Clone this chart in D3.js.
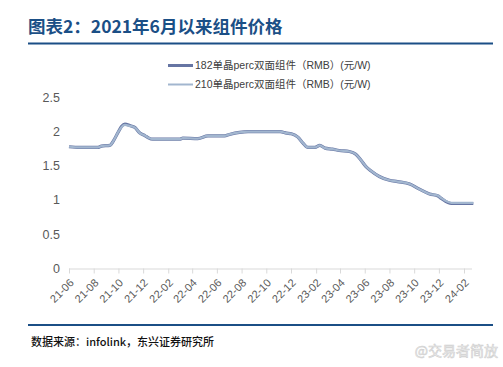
<!DOCTYPE html>
<html><head><meta charset="utf-8">
<script src="https://cdn.jsdelivr.net/npm/d3@7"></script>
<style>body{margin:0;background:#fff}</style>
</head><body>
<svg id="c" width="503" height="367"></svg>
<script>
const dates = ["2021-06-01","2021-06-28","2021-08-11","2021-08-20","2021-09-10","2021-09-18","2021-10-01","2021-10-09","2021-10-17","2021-10-29","2021-11-11","2021-11-23","2021-12-06","2021-12-14","2021-12-25","2022-03-01","2022-03-09","2022-04-15","2022-05-10","2022-06-20","2022-07-02","2022-07-27","2022-08-17","2022-11-04","2022-11-20","2022-12-02","2022-12-18","2022-12-31","2023-01-12","2023-01-29","2023-02-10","2023-02-23","2023-03-13","2023-03-30","2023-04-24","2023-05-10","2023-05-22","2023-06-04","2023-06-16","2023-07-07","2023-08-01","2023-08-21","2023-09-20","2023-10-14","2023-11-08","2023-11-29","2023-12-07","2024-01-01","2024-02-24"];
const s182 = [1.78,1.77,1.77,1.79,1.80,1.86,2.00,2.08,2.11,2.09,2.06,1.98,1.94,1.91,1.89,1.89,1.905,1.90,1.94,1.94,1.96,1.99,2.00,2.00,1.98,1.97,1.92,1.83,1.77,1.77,1.80,1.76,1.745,1.725,1.71,1.67,1.59,1.49,1.43,1.345,1.29,1.27,1.235,1.16,1.09,1.06,1.025,0.95,0.95];
const s210 = [1.78,1.77,1.77,1.79,1.80,1.86,2.00,2.07,2.10,2.085,2.06,1.98,1.94,1.91,1.89,1.89,1.905,1.90,1.94,1.94,1.96,1.99,2.00,2.00,1.98,1.97,1.92,1.83,1.77,1.77,1.80,1.76,1.745,1.725,1.71,1.67,1.59,1.49,1.43,1.345,1.29,1.27,1.235,1.16,1.09,1.065,1.03,0.96,0.96];
const yTicks = [0,0.5,1,1.5,2,2.5];
const yTickLabels = ["0","0.5","1","1.5","2","2.5"];
const xTickLabels = ["21-06","21-08","21-10","21-12","22-02","22-04","22-06","22-08","22-10","22-12","23-02","23-04","23-06","23-08","23-10","23-12","24-02"];
const seriesNames = ["182单晶perc双面组件（RMB）(元/W)","210单晶perc双面组件（RMB）(元/W)"];
const title = "图表2：2021年6月以来组件价格";
const source = "数据来源：infolink，东兴证券研究所";

const svg = d3.select("#c");
const parse = d3.timeParse("%Y-%m-%d");
const blue = "#1b4f86";

// title
svg.append("text").attr("x",28).attr("y",33).text(title)
  .attr("font-family","'Noto Sans CJK SC',sans-serif").attr("font-weight","bold")
  .attr("font-size",17.5).attr("fill",blue);
svg.append("line").attr("x1",28).attr("x2",493).attr("y1",43.5).attr("y2",43.5)
  .attr("stroke",blue).attr("stroke-width",2);

const x0 = parse("2021-06-01"), x1 = parse("2024-02-01");
const x = d3.scaleTime().domain([x0,x1]).range([69,464]);
const y = d3.scaleLinear().domain([0,2.5]).range([268.5,97.5]);

// y axis labels
svg.append("g").selectAll("text").data(yTicks).join("text")
  .attr("x",60).attr("y",d=>y(d)).attr("dy","0.35em").attr("text-anchor","end")
  .attr("font-family","Liberation Sans, Arial, sans-serif").attr("font-size",12.5)
  .attr("fill","#595959").text((d,i)=>yTickLabels[i]);

// x axis
const tickDates = xTickLabels.map(s=>parse("20"+s+"-01"));
const xAxis = d3.axisBottom(x).tickValues(tickDates).tickSize(5).tickFormat((d,i)=>xTickLabels[i]);
const gx = svg.append("g").attr("transform","translate(0,268.5)").call(xAxis);
gx.select(".domain").attr("d","M69,0.5H472").attr("stroke","#d9d9d9").attr("stroke-width",1);
gx.selectAll(".tick line").attr("stroke","#d9d9d9");
gx.selectAll(".tick text")
  .attr("font-family","Liberation Sans, Arial, sans-serif").attr("font-size",11)
  .attr("fill","#595959")
  .attr("text-anchor","end").attr("dy",0).attr("y",0)
  .attr("transform","translate(5,15) rotate(-45)");

// lines
const pts = (vals)=>dates.map((d,i)=>[parse(d),vals[i]]);
const line = d3.line().x(d=>x(d[0])).y(d=>y(d[1])).curve(d3.curveMonotoneX);
const colors = ["#6675a3","#a2b6cf"];
const widths = [3.2,2.2];
svg.append("path").datum(pts(s182)).attr("d",line).attr("fill","none")
  .attr("stroke",colors[0]).attr("stroke-width",widths[0]).attr("stroke-linejoin","round");
svg.append("path").datum(pts(s210)).attr("d",line).attr("fill","none")
  .attr("stroke",colors[1]).attr("stroke-width",widths[1]).attr("stroke-linejoin","round");

// legend
seriesNames.forEach((n,i)=>{
  const ly = 65.5 + i*19;
  svg.append("line").attr("x1",168).attr("x2",193).attr("y1",ly).attr("y2",ly)
    .attr("stroke",colors[i]).attr("stroke-width",i===0?3:2);
  svg.append("text").attr("x",195).attr("y",ly).attr("dy","0.35em").text(n)
    .attr("font-family","Liberation Sans, 'Noto Sans CJK SC', sans-serif").attr("font-size",10.5)
    .attr("fill","#404040");
});

// bottom rule & source
svg.append("line").attr("x1",28).attr("x2",493).attr("y1",325).attr("y2",325)
  .attr("stroke",blue).attr("stroke-width",2);
svg.append("text").attr("x",31).attr("y",342).attr("dy","0.35em").text(source)
  .attr("font-family","'Noto Sans CJK SC',sans-serif").attr("font-size",11).attr("font-weight","500").attr("fill","#111");
svg.append("text").attr("x",498).attr("y",351).attr("dy","0.35em").attr("text-anchor","end")
  .text("@交易者简放").attr("font-family","'Noto Sans CJK SC',sans-serif")
  .attr("font-size",14).attr("fill","#f2f2f2").attr("stroke","#d0d0d0").attr("stroke-width",0.6);
</script>
</body></html>
